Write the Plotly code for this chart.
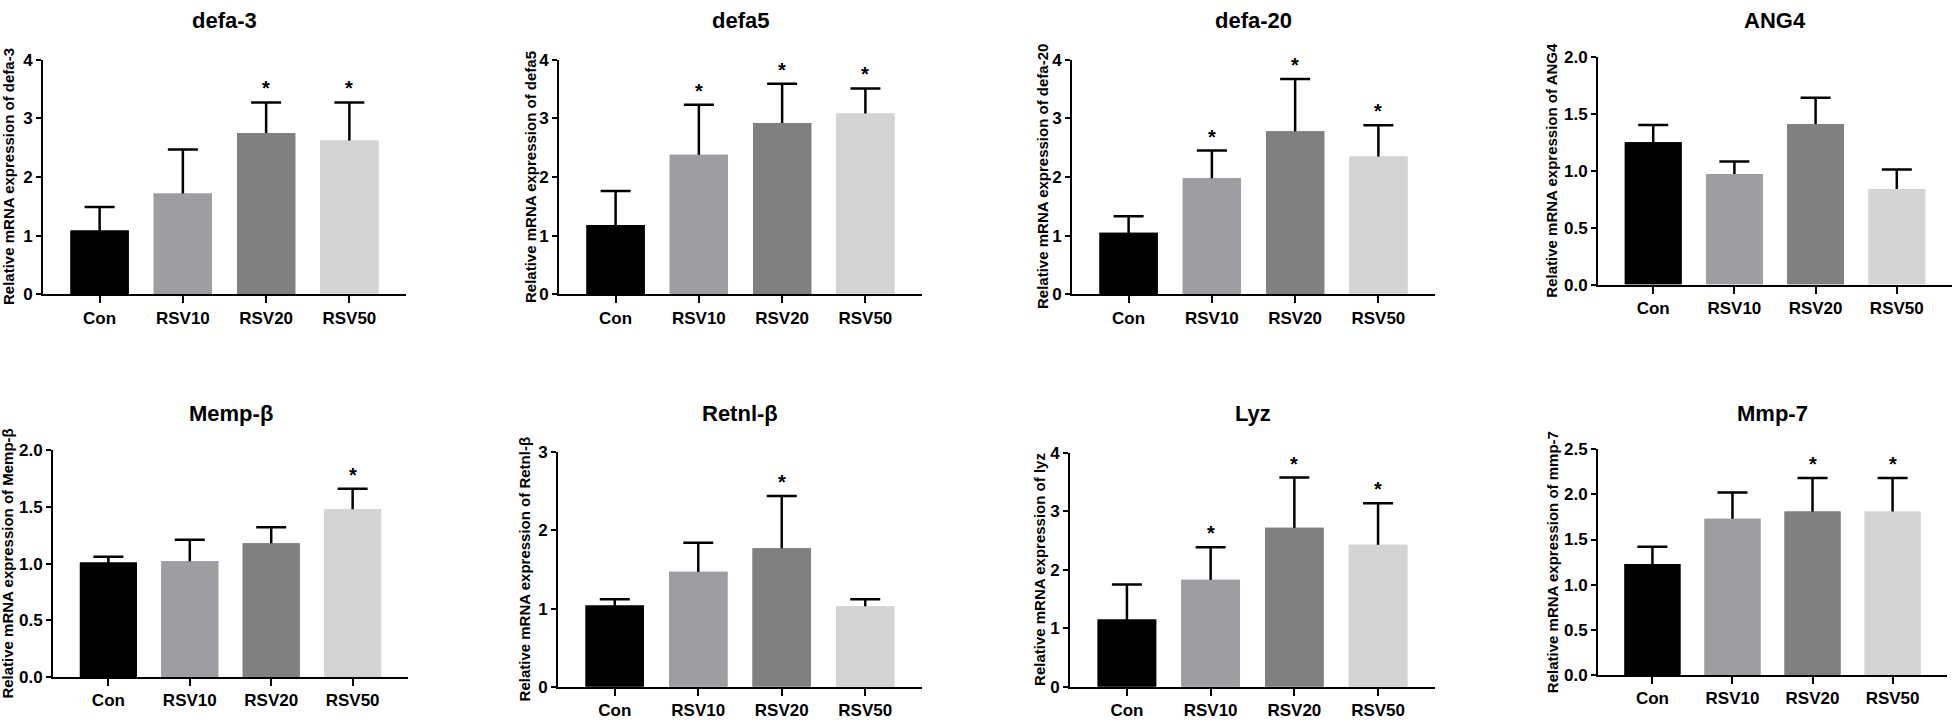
import plotly.graph_objects as go

groups = ["Con", "RSV10", "RSV20", "RSV50"]
bar_colors = ["#000000", "#9e9ea2", "#808080", "#d4d4d4"]

genes = ["defa-3", "defa5", "defa-20", "ANG4", "Memp-β", "Retnl-β", "Lyz", "Mmp-7"]
ytitles = [
    "Relative mRNA expression of defa-3",
    "Relative mRNA expression of defa5",
    "Relative mRNA expression of defa-20",
    "Relative mRNA expression of ANG4",
    "Relative mRNA expression of Memp-β",
    "Relative mRNA expression of Retnl-β",
    "Relative mRNA expression of lyz",
    "Relative mRNA expression of mmp-7",
]

# mean values
defa3_mean = [1.09, 1.72, 2.75, 2.62]
defa5_mean = [1.18, 2.38, 2.92, 3.08]
defa20_mean = [1.05, 1.98, 2.78, 2.35]
ang4_mean = [1.25, 0.97, 1.41, 0.84]
memp_mean = [1.01, 1.02, 1.18, 1.48]
retnl_mean = [1.04, 1.47, 1.77, 1.03]
lyz_mean = [1.15, 1.83, 2.72, 2.43]
mmp7_mean = [1.23, 1.73, 1.81, 1.81]

# upper error bars (SD)
defa3_sd = [0.40, 0.75, 0.52, 0.65]
defa5_sd = [0.58, 0.85, 0.67, 0.43]
defa20_sd = [0.28, 0.47, 0.89, 0.53]
ang4_sd = [0.15, 0.11, 0.23, 0.17]
memp_sd = [0.05, 0.19, 0.14, 0.18]
retnl_sd = [0.08, 0.37, 0.67, 0.09]
lyz_sd = [0.60, 0.56, 0.86, 0.71]
mmp7_sd = [0.19, 0.29, 0.37, 0.37]

# significance marks (*)
defa3_sig = [0, 0, 1, 1]
defa5_sig = [0, 1, 1, 1]
defa20_sig = [0, 1, 1, 1]
ang4_sig = [0, 0, 0, 0]
memp_sig = [0, 0, 0, 1]
retnl_sig = [0, 0, 1, 0]
lyz_sig = [0, 1, 1, 1]
mmp7_sig = [0, 0, 1, 1]

# axis ranges / tick steps
y_max = [4, 4, 4, 2, 2, 3, 4, 2.5]
y_dtick = [1, 1, 1, 0.5, 0.5, 1, 1, 0.5]
y_fmt = ["d", "d", "d", ".1f", ".1f", "d", "d", ".1f"]

means = [defa3_mean, defa5_mean, defa20_mean, ang4_mean, memp_mean, retnl_mean, lyz_mean, mmp7_mean]
sds = [defa3_sd, defa5_sd, defa20_sd, ang4_sd, memp_sd, retnl_sd, lyz_sd, mmp7_sd]
sigs = [defa3_sig, defa5_sig, defa20_sig, ang4_sig, memp_sig, retnl_sig, lyz_sig, mmp7_sig]

W, H = 1955, 726
# pixel boxes of each plot area: (left, right, top, bottom), y-title x, title y
boxes = [
    (43, 406, 52, 293, 9, 12),
    (559, 922, 52, 293, 531, 12),
    (1072, 1435, 52, 293, 1043, 12),
    (1598, 1952, 49, 283, 1552, 12),
    (53, 408, 453, 686, 8, 415),
    (558, 922, 455, 696, 524, 415),
    (1070, 1435, 456, 696, 1040, 415),
    (1598, 1947, 452, 684, 1552, 415),
]

FONT = "Liberation Sans, Arial, sans-serif"

fig = go.Figure()
annotations = []
for i, gene in enumerate(genes):
    n = i + 1
    xa = "x" if n == 1 else f"x{n}"
    ya = "y" if n == 1 else f"y{n}"
    # bars carrying the error bars; the lower cap sits inside the bar
    fig.add_trace(go.Bar(
        x=groups, y=means[i],
        marker=dict(color=bar_colors, line=dict(width=0)),
        width=0.7,
        error_y=dict(type="data", symmetric=False, array=sds[i],
                     arrayminus=[0.08 * y_max[i]] * 4,
                     color="black", thickness=2.5, width=15),
        xaxis=xa, yaxis=ya, showlegend=False, hoverinfo="skip",
    ))
    # same bars again on top, hiding the lower part of the error bars
    fig.add_trace(go.Bar(
        x=groups, y=means[i],
        marker=dict(color=bar_colors, line=dict(width=0)),
        width=0.7,
        xaxis=xa, yaxis=ya, showlegend=False,
    ))
    for g, m, s, flag in zip(groups, means[i], sds[i], sigs[i]):
        if flag:
            annotations.append(dict(
                x=g, y=m + s, xref=xa, yref=ya, text="*", showarrow=False,
                yanchor="bottom", yshift=1,
                font=dict(family=FONT, size=20, color="black", weight="bold"),
            ))

    l, r, t, b, tx, ty = boxes[i]
    dom_x = [l / W, r / W]
    dom_y = [1 - b / H, 1 - t / H]
    fig.layout[f"xaxis{'' if n == 1 else n}"] = dict(
        domain=dom_x, anchor=ya, range=[-0.68, 3.68],
        showline=True, linecolor="black", linewidth=2,
        ticks="outside", ticklen=7, tickwidth=2, tickcolor="black",
        tickfont=dict(family=FONT, size=17, color="black", weight="bold"),
        showgrid=False, zeroline=False, fixedrange=True,
    )
    fig.layout[f"yaxis{'' if n == 1 else n}"] = dict(
        domain=dom_y, anchor=xa, range=[0, y_max[i]], dtick=y_dtick[i],
        tickformat=y_fmt[i],
        showline=True, linecolor="black", linewidth=2,
        ticks="outside", ticklen=5, tickwidth=2, tickcolor="black",
        tickfont=dict(family=FONT, size=17, color="black", weight="bold"),
        showgrid=False, zeroline=False, fixedrange=True,
    )
    # panel title
    annotations.append(dict(
        x=(l + r) / 2 / W, y=1 - ty / H, xref="paper", yref="paper",
        text=gene, showarrow=False, xanchor="center", yanchor="middle",
        font=dict(family=FONT, size=22, color="black", weight="bold"),
    ))
    # y-axis title
    annotations.append(dict(
        x=tx / W, y=1 - (t + b) / 2 / H, xref="paper", yref="paper",
        text=ytitles[i], showarrow=False, textangle=-90,
        xanchor="center", yanchor="middle",
        font=dict(family=FONT, size=15, color="black", weight="bold"),
    ))

fig.update_layout(
    width=W, height=H,
    margin=dict(l=0, r=0, t=0, b=0),
    paper_bgcolor="white", plot_bgcolor="white",
    annotations=annotations,
    barmode="overlay",
)

fig.write_html("out.html", config={"displayModeBar": False},
               post_script="document.body.style.margin='0';")
